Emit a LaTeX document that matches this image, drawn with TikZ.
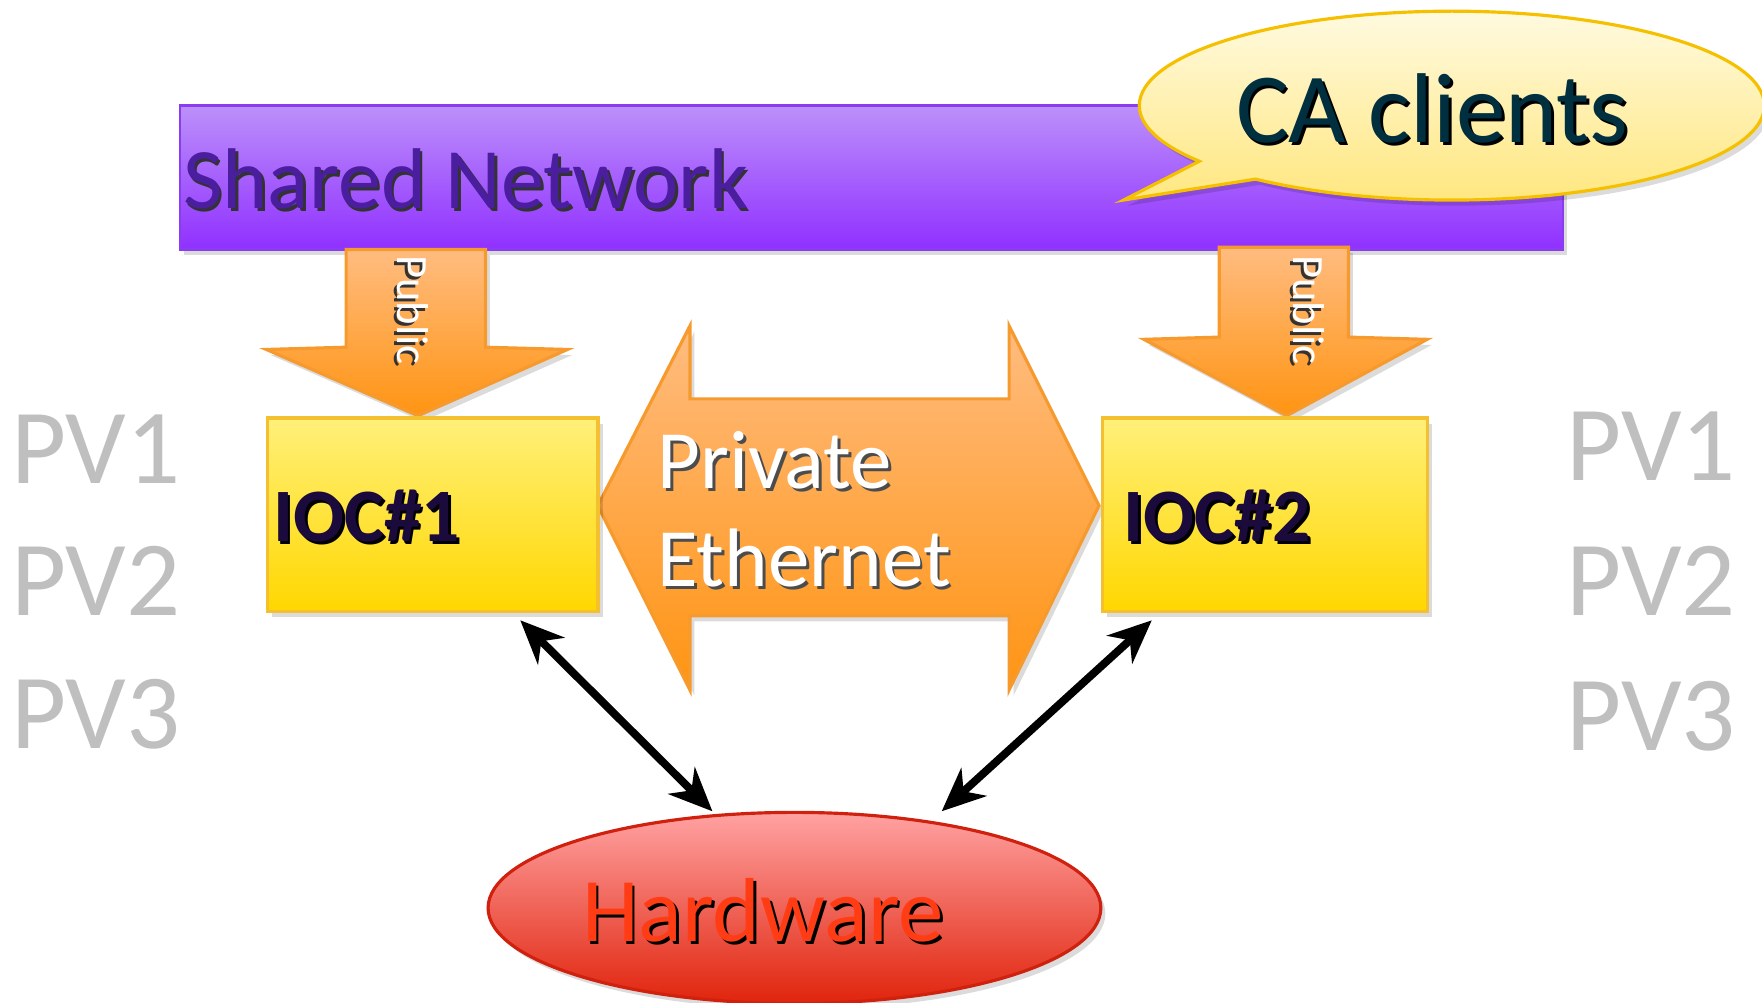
\documentclass[tikz,border=0pt]{standalone}
\usepackage{fontspec}
\setmainfont{Carlito}
\usetikzlibrary{shapes.geometric,shapes.callouts,arrows.meta,shadows}

\definecolor{netTop}{HTML}{BC90FA}
\definecolor{netBot}{HTML}{9030FF}
\definecolor{netEdge}{HTML}{8A3CF0}
\definecolor{netText}{HTML}{4A1E9E}
\definecolor{caTop}{HTML}{FFFAE0}
\definecolor{caBot}{HTML}{FFE67A}
\definecolor{caEdge}{HTML}{F5C000}
\definecolor{caText}{HTML}{003040}
\definecolor{iocTop}{HTML}{FFF07A}
\definecolor{iocBot}{HTML}{FFD700}
\definecolor{iocEdge}{HTML}{F5C030}
\definecolor{iocText}{HTML}{1B0A3C}
\definecolor{orTop}{HTML}{FFBC80}
\definecolor{orBot}{HTML}{FF9412}
\definecolor{orEdge}{HTML}{F79A2E}
\definecolor{hwTop}{HTML}{FFA2A2}
\definecolor{hwBot}{HTML}{E0240C}
\definecolor{hwEdge}{HTML}{D0200E}
\definecolor{hwText}{HTML}{FF3C14}
\definecolor{pvGray}{HTML}{BFBFBF}

\begin{document}
\begin{tikzpicture}[x=0.01cm, y=-0.01cm,
  every node/.style={inner sep=0pt, outer sep=0pt},
  softshadow/.style={drop shadow={shadow xshift=0.04cm, shadow yshift=-0.05cm, opacity=0.14, fill=black}},
  netbar/.style={draw=netEdge, line width=0.6pt, top color=netTop, bottom color=netBot, softshadow},
  bubble/.style={ellipse callout, draw=caEdge, line width=0.8pt, top color=caTop, bottom color=caBot, softshadow},
  iocbox/.style={draw=iocEdge, line width=0.8pt, top color=iocTop, bottom color=iocBot, softshadow},
  blockarrow/.style={draw=orEdge, line width=0.8pt, top color=orTop, bottom color=orBot, line join=miter, softshadow},
  hwblob/.style={ellipse, draw=hwEdge, line width=0.8pt, top color=hwTop, bottom color=hwBot, softshadow},
  link/.style={line width=2pt, {Stealth[length=11pt,width=9.5pt,inset=3.5pt]}-{Stealth[length=11pt,width=9.5pt,inset=3.5pt]}},
  sh/.style={xshift=0.025cm, yshift=-0.025cm},
  pvlabel/.style={font=\fontsize{27}{27}\selectfont, text=pvGray, anchor=base west}
]
\useasboundingbox (0,0) rectangle (1568,892);
\clip (0,0) rectangle (1568,892);

% shared network bar
\node[netbar, minimum width=12.3cm, minimum height=1.28cm, anchor=north west] (net) at (160,94) {};
\node[font=\fontsize{21.8}{22}\selectfont, text=black!80, anchor=base west, sh] (netlabel-sh) at (163,186) {Shared Network};
\node[font=\fontsize{21.8}{22}\selectfont, text=netText, anchor=base west] (netlabel) at (163,186) {Shared Network};

% CA clients speech bubble
\node[bubble, minimum width=5.56cm, minimum height=1.68cm, callout absolute pointer={(1000,178)}] (ca) at (1292,94) {};
\node[font=\fontsize{25.1}{26}\selectfont, text=black, anchor=base west, sh] (calabel-sh) at (1100,127) {CA clients};
\node[font=\fontsize{25.1}{26}\selectfont, text=caText, anchor=base west] (calabel) at (1100,127) {CA clients};

% public block arrows from the network down to the IOCs
\path[blockarrow] (308,222) -- (432,222) -- (432,309) -- (505,311) -- (372,370) -- (237,311) -- (308,309) -- cycle;
\path[blockarrow] (1085,220) -- (1200,220) -- (1200,300) -- (1270,302) -- (1145,370) -- (1018,302) -- (1085,300) -- cycle;
\node[font=\fontsize{11.3}{12}\selectfont, text=black!80, rotate=-90, sh] (pub1-sh) at (367,276) {Public};
\node[font=\fontsize{11.3}{12}\selectfont, text=white, rotate=-90] (pub1) at (367,276) {Public};
\node[font=\fontsize{11.3}{12}\selectfont, text=black!80, rotate=-90, sh] (pub2-sh) at (1165,276) {Public};
\node[font=\fontsize{11.3}{12}\selectfont, text=white, rotate=-90] (pub2) at (1165,276) {Public};

% private ethernet double arrow
\path[blockarrow] (532,450) -- (614,290) -- (614,355) -- (898,355) -- (898,290) -- (978,450)
  -- (898,614) -- (898,548) -- (614,548) -- (614,614) -- cycle;
\node[font=\fontsize{21}{21}\selectfont, text=black!70, anchor=base west, sh] (priv-sh) at (585,435) {Private};
\node[font=\fontsize{21}{21}\selectfont, text=white, anchor=base west] (priv) at (585,435) {Private};
\node[font=\fontsize{21}{21}\selectfont, text=black!70, anchor=base west, sh] (eth-sh) at (585,522) {Ethernet};
\node[font=\fontsize{21}{21}\selectfont, text=white, anchor=base west] (eth) at (585,522) {Ethernet};

% IOC boxes
\node[iocbox, minimum width=2.94cm, minimum height=1.72cm, anchor=north west] (ioc1) at (238,372) {};
\node[iocbox, minimum width=2.89cm, minimum height=1.72cm, anchor=north west] (ioc2) at (981,372) {};
\node[font=\bfseries\fontsize{19.1}{20}\selectfont, text=black, anchor=base west, sh] (ioc1label-sh) at (243,482) {IOC\#1};
\node[font=\bfseries\fontsize{19.1}{20}\selectfont, text=iocText, anchor=base west] (ioc1label) at (243,482) {IOC\#1};
\node[font=\bfseries\fontsize{19.1}{20}\selectfont, text=black, anchor=base west, sh] (ioc2label-sh) at (1000,482) {IOC\#2};
\node[font=\bfseries\fontsize{19.1}{20}\selectfont, text=iocText, anchor=base west] (ioc2label) at (1000,482) {IOC\#2};

% process variable lists
\node[pvlabel] (pvl1) at (10,430) {PV1};
\node[pvlabel] (pvl2) at (10,548) {PV2};
\node[pvlabel] (pvl3) at (10,666) {PV3};
\node[pvlabel] (pvr1) at (1394,428) {PV1};
\node[pvlabel] (pvr2) at (1394,548) {PV2};
\node[pvlabel] (pvr3) at (1394,668) {PV3};

% hardware
\node[hwblob, minimum width=5.45cm, minimum height=1.7cm] (hw) at (707,808) {};
\node[font=\fontsize{23}{23}\selectfont, text=black, anchor=base west, sh] (hwlabel-sh) at (518,838) {Hardware};
\node[font=\fontsize{23}{23}\selectfont, text=hwText, anchor=base west] (hwlabel) at (518,838) {Hardware};

% IOC to hardware links
\coordinate (ioc1io) at (463,552);
\coordinate (hwio1) at (634,722);
\coordinate (ioc2io) at (1025,552);
\coordinate (hwio2) at (838,722);
\draw[link] (ioc1io) -- (hwio1);
\draw[link] (ioc2io) -- (hwio2);
\end{tikzpicture}
\end{document}
